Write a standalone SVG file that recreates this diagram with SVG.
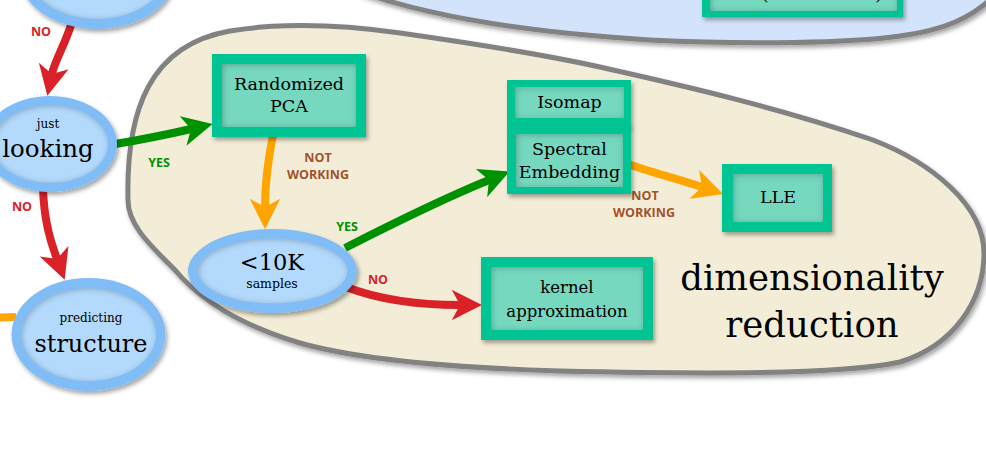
<svg xmlns="http://www.w3.org/2000/svg" width="986" height="452" viewBox="0 0 986 452">
<defs>
  <filter id="shadow" x="-20%" y="-20%" width="150%" height="150%">
    <feDropShadow dx="2" dy="3" stdDeviation="2" flood-color="#000" flood-opacity="0.35"/>
  </filter>
  <filter id="inset" x="-10%" y="-10%" width="120%" height="120%">
    <feFlood flood-color="#000" flood-opacity="0.5" result="f"/>
    <feComposite in="f" in2="SourceAlpha" operator="out" result="o"/>
    <feOffset in="o" dx="1" dy="1" result="oo"/>
    <feGaussianBlur in="oo" stdDeviation="3" result="b"/>
    <feComposite in="b" in2="SourceAlpha" operator="in" result="s"/>
    <feMerge><feMergeNode in="SourceGraphic"/><feMergeNode in="s"/></feMerge>
  </filter>
  <marker id="ah-red" viewBox="0 0 10 10" refX="2.7" refY="5" markerWidth="3.8" markerHeight="3.8" orient="auto" markerUnits="strokeWidth">
    <path d="M0,0 L10,5 L0,10 L2.7,5 Z" fill="#DA2128"/>
  </marker>
  <marker id="ah-green" viewBox="0 0 10 10" refX="2.7" refY="5" markerWidth="3.8" markerHeight="3.8" orient="auto" markerUnits="strokeWidth">
    <path d="M0,0 L10,5 L0,10 L2.7,5 Z" fill="#009100"/>
  </marker>
  <marker id="ah-orange" viewBox="0 0 10 10" refX="2.7" refY="5" markerWidth="3.8" markerHeight="3.8" orient="auto" markerUnits="strokeWidth">
    <path d="M0,0 L10,5 L0,10 L2.7,5 Z" fill="#FFA500"/>
  </marker>
</defs>
<style>
  .region { stroke: #828282; stroke-width: 5; }
  .ering { fill: #80BDF6; }
  .einner { fill: #B3DAFD; }
  .bborder { fill: #00C493; }
  .binner { fill: #76D8BF; }
  .t { font-family: "DejaVu Serif", "Liberation Serif", serif; fill: #000; text-anchor: middle; }
  .box { font-size: 17.5px; }
  .lbl { font-family: "Open Sans", "DejaVu Sans", sans-serif; font-weight: bold; font-size: 12.5px; text-anchor: middle; }
  .no { fill: #DA2128; }
  .yes { fill: #009100; }
  .nw { fill: #A0522D; }
  .c { fill: none; stroke-width: 8; }
  .cr { stroke: #DA2128; }
  .cg { stroke: #009100; }
  .co { stroke: #FFA500; }
</style>
<rect x="0" y="0" width="986" height="452" fill="#FFFFFF"/>

<g id="region-top">
  <path class="region" fill="#D3E3FB" d="M 355,-10 C 420,14 520,32 650,40 C 750,45 850,43 900,36 C 945,30 970,18 992,-2 L 992,-10 Z" filter="url(#shadow)"/>
</g>

<g id="region-dimensionality-reduction">
  <path class="region" fill="#F3EDD7" filter="url(#shadow)" d="M 128,200 C 126,110 150,45 230,31 C 290,21 350,26 400,33 C 470,43 550,55 613,70 C 680,85 780,108 873,140 C 930,162 985,205 984,255 C 983,300 955,345 900,362 C 840,375 700,374 560,371 C 460,368 360,360 300,343 C 240,325 200,300 175,270 C 150,245 128,225 128,200 Z"/>
  <text class="t" x="812" y="290" font-size="35.5">dimensionality</text>
  <text class="t" x="812" y="337" font-size="35.5">reduction</text>
</g>

<g id="connectors">
  <path class="c cr" d="M 72,22 C 65,45 55,60 52,74" marker-end="url(#ah-red)"/>
  <path class="c cr" d="M 43,188 C 44,220 50,240 57,259" marker-end="url(#ah-red)"/>
  <path class="c co" d="M 16,317 L -10,318"/>
  <path class="c cg" d="M 115,144 C 140,140 165,135 191,129" marker-end="url(#ah-green)"/>
  <path class="c co" d="M 273,135 C 268,160 265,185 265,207" marker-end="url(#ah-orange)"/>
  <path class="c cg" d="M 345,248 C 390,225 440,200 489,180" marker-end="url(#ah-green)"/>
  <path class="c cr" d="M 346,287 C 380,300 420,305 460,305" marker-end="url(#ah-red)"/>
  <path class="c co" d="M 628,164 C 650,172 675,178 702,187" marker-end="url(#ah-orange)"/>
  <text class="lbl no" x="41" y="36">NO</text>
  <text class="lbl no" x="22" y="211">NO</text>
  <text class="lbl yes" x="159" y="167">YES</text>
  <text class="lbl nw" x="318" y="162">NOT</text>
  <text class="lbl nw" x="318" y="179">WORKING</text>
  <text class="lbl yes" x="347" y="231">YES</text>
  <text class="lbl no" x="378" y="284">NO</text>
  <text class="lbl nw" x="645" y="200">NOT</text>
  <text class="lbl nw" x="644" y="217">WORKING</text>
</g>

<g id="node-svr-rbf">
  <rect class="bborder" x="702" y="-60" width="201" height="77" filter="url(#shadow)"/>
  <rect class="binner" x="710" y="-55" width="187" height="66" filter="url(#inset)"/>
  <text class="t box" x="803" y="-0.5">SVR(kernel='rbf')</text>
</g>

<g id="node-top-ellipse">
  <ellipse class="ering" cx="97" cy="-26" rx="78" ry="55" filter="url(#shadow)"/>
  <ellipse class="einner" cx="97" cy="-26" rx="68" ry="45" filter="url(#inset)"/>
</g>

<g id="node-just-looking">
  <ellipse class="ering" cx="50" cy="144" rx="67" ry="48" filter="url(#shadow)"/>
  <ellipse class="einner" cx="50" cy="144" rx="58" ry="39" filter="url(#inset)"/>
  <text class="t" x="48" y="128" font-size="12">just</text>
  <text class="t" x="48" y="157" font-size="24.5">looking</text>
</g>

<g id="node-predicting-structure">
  <ellipse class="ering" cx="88.5" cy="334.5" rx="77" ry="56.5" filter="url(#shadow)"/>
  <ellipse class="einner" cx="88.5" cy="334.5" rx="67.5" ry="46.5" filter="url(#inset)"/>
  <text class="t" x="91" y="322" font-size="12">predicting</text>
  <text class="t" x="91" y="352" font-size="24">structure</text>
</g>

<g id="node-10k-samples">
  <ellipse class="ering" cx="272.5" cy="271" rx="84.5" ry="42" filter="url(#shadow)"/>
  <ellipse class="einner" cx="272.5" cy="271" rx="75" ry="32.5" filter="url(#inset)"/>
  <text class="t" x="272" y="270" font-size="22.5">&lt;10K</text>
  <text class="t" x="272" y="288" font-size="12.5">samples</text>
</g>

<g id="node-randomized-pca">
  <rect class="bborder" x="212" y="54" width="154" height="83" filter="url(#shadow)"/>
  <rect class="binner" x="222" y="64" width="134" height="63" filter="url(#inset)"/>
  <text class="t box" x="289" y="90">Randomized</text>
  <text class="t box" x="289" y="112">PCA</text>
</g>

<g id="node-isomap">
  <rect class="bborder" x="507" y="80" width="124" height="47" filter="url(#shadow)"/>
  <rect class="binner" x="515" y="87" width="109" height="31" filter="url(#inset)"/>
  <text class="t box" x="569.5" y="108">Isomap</text>
</g>

<g id="node-spectral-embedding">
  <rect class="bborder" x="507" y="125" width="124" height="69" filter="url(#shadow)"/>
  <rect class="binner" x="516" y="134" width="107" height="53" filter="url(#inset)"/>
  <text class="t box" x="569.5" y="155">Spectral</text>
  <text class="t box" x="569.5" y="178">Embedding</text>
</g>

<g id="node-lle">
  <rect class="bborder" x="722" y="164" width="110" height="68" filter="url(#shadow)"/>
  <rect class="binner" x="733" y="174" width="90" height="48" filter="url(#inset)"/>
  <text class="t box" x="778" y="203">LLE</text>
</g>

<g id="node-kernel-approximation">
  <rect class="bborder" x="481" y="257" width="172" height="83" filter="url(#shadow)"/>
  <rect class="binner" x="491" y="267" width="152" height="63" filter="url(#inset)"/>
  <text class="t" x="567" y="293" font-size="16.5">kernel</text>
  <text class="t" x="567" y="317" font-size="16.5">approximation</text>
</g>
</svg>
